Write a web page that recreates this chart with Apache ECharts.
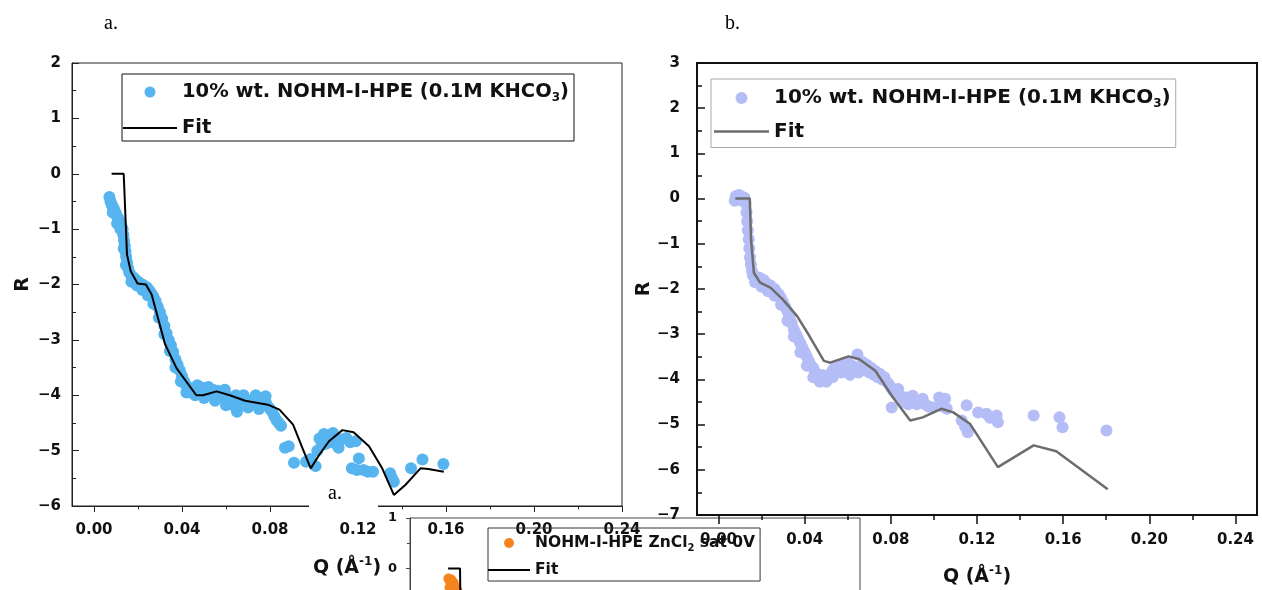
<!DOCTYPE html>
<html>
<head>
<meta charset="utf-8">
<script src="https://cdn.jsdelivr.net/npm/echarts@6/dist/echarts.min.js"></script>
<style>
  html, body { margin: 0; padding: 0; background: #fff; }
  #chart { width: 1262px; height: 590px; }
</style>
</head>
<body>
<div id="chart"></div>
<script>
// 数据：Q (Å^-1), R
const aDots = [
  [0.007,-0.42],[0.0075,-0.5],[0.008,-0.55],[0.0085,-0.6],[0.009,-0.63],[0.0095,-0.68],[0.010,-0.72],
  [0.0105,-0.78],[0.011,-0.8],[0.0115,-0.85],[0.012,-0.88],[0.0125,-0.95],[0.013,-1.0],[0.0133,-1.1],
  [0.0136,-1.2],[0.014,-1.3],[0.0143,-1.4],[0.0146,-1.5],[0.015,-1.6],[0.0155,-1.7],[0.016,-1.78],
  [0.017,-1.84],[0.018,-1.88],[0.019,-1.92],[0.020,-1.95],[0.021,-1.98],[0.022,-2.0],[0.023,-2.03],
  [0.024,-2.05],[0.025,-2.1],[0.026,-2.16],[0.027,-2.22],[0.028,-2.3],[0.029,-2.4],[0.030,-2.5],
  [0.031,-2.62],[0.032,-2.75],[0.033,-2.88],[0.034,-3.0],[0.035,-3.1],[0.036,-3.22],[0.037,-3.35],
  [0.038,-3.45],[0.039,-3.55],[0.040,-3.65],[0.041,-3.75],[0.042,-3.82],[0.043,-3.9],[0.044,-3.95],
  [0.045,-3.92],[0.046,-3.88],[0.047,-3.82],[0.048,-3.85],[0.049,-3.9],[0.050,-3.87],[0.051,-3.92],
  [0.052,-3.85],[0.053,-3.95],[0.054,-3.9],[0.055,-3.98],[0.056,-3.92],[0.057,-4.0],[0.058,-3.95],
  [0.059,-4.05],[0.060,-4.0],[0.061,-4.1],[0.062,-4.05],[0.063,-4.15],[0.064,-4.2],[0.065,-4.25],
  [0.066,-4.1],[0.067,-4.05],[0.068,-4.0],[0.069,-4.08],[0.070,-4.12],[0.071,-4.15],[0.072,-4.1],
  [0.073,-4.15],[0.074,-4.12],[0.075,-4.18],[0.076,-4.08],[0.077,-4.05],[0.078,-4.12],[0.079,-4.2],
  [0.080,-4.25],[0.081,-4.3],[0.082,-4.38],[0.083,-4.45],[0.084,-4.5],[0.085,-4.55],
  [0.0085,-0.7],[0.0105,-0.9],[0.012,-1.0],[0.0135,-1.35],[0.0145,-1.65],[0.017,-1.95],[0.0195,-2.02],
  [0.022,-2.1],[0.0245,-2.2],[0.027,-2.35],[0.0295,-2.6],[0.032,-2.9],[0.0345,-3.2],[0.037,-3.5],
  [0.0395,-3.75],[0.042,-3.95],[0.046,-4.0],[0.050,-4.05],[0.055,-4.1],[0.060,-4.18],[0.065,-4.3],
  [0.070,-4.22],[0.075,-4.25],[0.0595,-3.9],[0.0645,-4.0],[0.0735,-4.0],[0.078,-4.02],
  [0.0868,-4.95],[0.0885,-4.92],[0.0909,-5.22],[0.0964,-5.2],[0.0985,-5.15],[0.1007,-5.28],
  [0.1015,-5.0],[0.1025,-4.78],[0.1035,-4.9],[0.1045,-4.7],[0.1051,-4.88],[0.106,-4.75],[0.107,-4.85],
  [0.1086,-4.68],[0.1095,-4.8],[0.1105,-4.9],[0.1112,-4.95],[0.1125,-4.8],[0.1147,-4.77],[0.1165,-4.85],
  [0.119,-4.83],[0.1204,-5.14],[0.1172,-5.32],[0.1195,-5.35],[0.1225,-5.35],[0.1245,-5.38],[0.1268,-5.38],
  [0.1346,-5.41],[0.1355,-5.5],[0.1363,-5.56],[0.1441,-5.32],[0.1493,-5.16],[0.1588,-5.24]
];
const aFit = [
  [0.008,0],[0.0135,0],[0.015,-1.46],[0.0167,-1.76],[0.0198,-1.98],[0.0236,-2.0],[0.0262,-2.18],
  [0.0323,-3.08],[0.0375,-3.51],[0.0465,-4.0],[0.0496,-4.0],[0.0557,-3.93],[0.0617,-4.0],[0.0687,-4.1],
  [0.079,-4.17],[0.0843,-4.26],[0.0905,-4.53],[0.0947,-4.95],[0.0985,-5.32],[0.1025,-5.07],[0.1068,-4.83],
  [0.1129,-4.63],[0.118,-4.67],[0.125,-4.92],[0.131,-5.32],[0.1363,-5.8],[0.1415,-5.62],[0.1484,-5.32],
  [0.152,-5.33],[0.159,-5.38]
];
const bDots = [
  [0.0075,-0.05],[0.008,0.05],[0.009,-0.02],[0.0095,0.08],[0.0105,0.05],[0.011,-0.05],[0.012,0.02],
  [0.0125,-0.1],[0.013,-0.3],[0.0133,-0.5],[0.0136,-0.7],[0.014,-0.9],[0.0143,-1.1],[0.0146,-1.3],
  [0.015,-1.45],[0.0155,-1.6],[0.016,-1.7],[0.017,-1.72],[0.018,-1.78],[0.019,-1.75],[0.020,-1.82],
  [0.021,-1.8],[0.022,-1.88],[0.023,-1.9],[0.024,-1.92],[0.025,-1.98],[0.026,-2.0],[0.027,-2.08],
  [0.028,-2.12],[0.029,-2.2],[0.030,-2.3],[0.031,-2.4],[0.032,-2.5],[0.033,-2.62],[0.034,-2.75],
  [0.035,-2.9],[0.036,-3.0],[0.037,-3.1],[0.038,-3.2],[0.039,-3.3],[0.040,-3.4],[0.041,-3.5],
  [0.042,-3.6],[0.043,-3.7],[0.044,-3.75],[0.045,-3.85],[0.046,-3.9],[0.047,-3.95],[0.048,-3.9],
  [0.049,-3.95],[0.050,-3.92],[0.051,-3.95],[0.052,-3.88],[0.053,-3.8],[0.054,-3.75],[0.055,-3.7],
  [0.056,-3.68],[0.057,-3.72],[0.058,-3.65],[0.059,-3.75],[0.060,-3.62],[0.061,-3.78],[0.062,-3.7],
  [0.0645,-3.45],[0.066,-3.75],[0.067,-3.62],[0.068,-3.8],[0.069,-3.68],[0.070,-3.85],[0.071,-3.75],
  [0.072,-3.9],[0.073,-3.82],[0.074,-3.95],[0.075,-3.88],[0.076,-4.0],[0.077,-3.95],[0.078,-4.05],
  [0.079,-4.1],[0.080,-4.18],[0.0804,-4.62],[0.081,-4.25],[0.082,-4.3],[0.0834,-4.21],[0.0844,-4.36],
  [0.086,-4.5],[0.087,-4.4],[0.088,-4.55],[0.0901,-4.36],[0.091,-4.48],[0.092,-4.55],[0.0948,-4.43],
  [0.096,-4.55],[0.0975,-4.6],[0.0995,-4.62],[0.1024,-4.4],[0.1035,-4.48],[0.1052,-4.43],[0.104,-4.6],
  [0.106,-4.65],[0.1129,-4.91],[0.1145,-5.05],[0.1157,-5.17],[0.1152,-4.57],[0.1205,-4.73],
  [0.1244,-4.76],[0.126,-4.85],[0.1291,-4.8],[0.1297,-4.95],[0.1463,-4.8],[0.1583,-4.84],
  [0.1597,-5.06],[0.1801,-5.13],
  [0.017,-1.85],[0.020,-1.95],[0.023,-2.05],[0.026,-2.15],[0.029,-2.35],[0.032,-2.7],[0.035,-3.05],
  [0.038,-3.4],[0.041,-3.7],[0.044,-3.95],[0.047,-4.05],[0.050,-4.05],[0.053,-3.95],[0.057,-3.85],
  [0.061,-3.9],[0.065,-3.85]
];
const bFit = [
  [0.0078,0],[0.0145,0],[0.0151,-0.91],[0.0164,-1.64],[0.0193,-1.86],[0.0241,-1.97],[0.0298,-2.23],
  [0.0365,-2.6],[0.0422,-3.04],[0.0489,-3.59],[0.0518,-3.63],[0.0604,-3.49],[0.0652,-3.55],
  [0.0728,-3.81],[0.0804,-4.36],[0.089,-4.91],[0.0948,-4.84],[0.1034,-4.65],[0.109,-4.73],
  [0.1167,-4.98],[0.1297,-5.94],[0.1463,-5.46],[0.1568,-5.59],[0.1807,-6.43]
];
const cDots = [
  [0.0122,-0.2],[0.013,-0.25],[0.0138,-0.22],[0.0145,-0.3],[0.0152,-0.28],[0.016,-0.35],
  [0.0168,-0.4],[0.0175,-0.45],[0.0128,-0.38],[0.0142,-0.42]
];
const cFit = [[0.012,0],[0.0189,0],[0.0192,-0.8],[0.0198,-1.6],[0.024,-2.0]];

const xMajor = [0, 0.04, 0.08, 0.12, 0.16, 0.20, 0.24];
const xMinor = [0.02, 0.06, 0.10, 0.14, 0.18, 0.22];

const SANS = 'DejaVu Sans';
const minusFmt = v => (v < 0 ? '\u2212' + (-v) : String(v));
// 拟合线的图例图标：细长矩形
const LINE_ICON = 'path://M0,0 L54,0 L54,2 L0,2 Z';

const legendRich = size => ({
  t: { fontFamily: SANS, fontWeight: 'bold', fontSize: size, lineHeight: 24, color: '#111' },
  s: { fontFamily: SANS, fontWeight: 'bold', fontSize: Math.round(size * 0.62), lineHeight: 12, verticalAlign: 'bottom', color: '#111' }
});
const qName = '{q|Q (Å}{p|-1}{q|)}';
const qRich = {
  q: { fontFamily: SANS, fontWeight: 'bold', fontSize: 19, lineHeight: 24, color: '#111' },
  p: { fontFamily: SANS, fontWeight: 'bold', fontSize: 12, lineHeight: 12, verticalAlign: 'top', color: '#111' }
};
const labels = {
  aDots: '{t|10% wt. NOHM-I-HPE (0.1M KHCO}{s|3}{t|)}',
  aFit: '{t|Fit}',
  bDots: '{t|10% wt. NOHM-I-HPE (0.1M KHCO}{s|3}{t|)}',
  bFit: '{t|Fit}',
  cDots: '{t|NOHM-I-HPE ZnCl}{s|2}{t| sat 0V}',
  cFit: '{t|Fit}'
};

function xAxes(grid, color, tickLen) {
  const w = grid === 0 ? 1 : 2;
  return [
    {
      type: 'value', gridIndex: grid, min: -0.01, max: grid === 0 ? 0.24 : 0.25, position: 'bottom',
      splitLine: { show: false },
      axisLine: { show: true, onZero: false, lineStyle: { color: color, width: w } },
      axisTick: { show: true, customValues: xMajor, length: tickLen, lineStyle: { color: color, width: w === 1 ? 1 : 1.5 } },
      axisLabel: {
        customValues: xMajor, formatter: v => v.toFixed(2), margin: grid === 0 ? 17 : 18,
        fontFamily: SANS, fontWeight: 'bold', fontSize: 15, color: '#111'
      },
      name: qName, nameLocation: 'middle', nameGap: 50,
      nameTextStyle: { rich: qRich }
    },
    {
      type: 'value', gridIndex: grid, min: -0.01, max: grid === 0 ? 0.24 : 0.25, position: 'bottom',
      splitLine: { show: false },
      axisLine: { show: false, onZero: false },
      axisTick: { show: true, customValues: xMinor, length: tickLen * 0.55, lineStyle: { color: color, width: w === 1 ? 1 : 1.5 } },
      axisLabel: { show: false }
    }
  ];
}

const chart = echarts.init(document.getElementById('chart'), null, { renderer: 'canvas' });

const option = {
  animation: false,
  backgroundColor: '#fff',
  grid: [
    { left: 72, top: 63, width: 550, height: 443, show: true, borderColor: '#222', borderWidth: 1, outerBoundsMode: 'none' },
    { left: 697, top: 63, width: 560, height: 452, show: true, borderColor: '#111', borderWidth: 2, outerBoundsMode: 'none' },
    { left: 410, top: 518, width: 450, height: 505, show: true, borderColor: '#444', borderWidth: 1, outerBoundsMode: 'none' }
  ],
  xAxis: [
    ...xAxes(0, '#222', 6),
    ...xAxes(1, '#111', 9),
    { type: 'value', gridIndex: 2, min: -0.01, max: 0.25, show: false }
  ],
  yAxis: [
    {
      type: 'value', gridIndex: 0, min: -6, max: 2, interval: 1,
      splitLine: { show: false },
      axisLine: { show: true, onZero: false, lineStyle: { color: '#222' } },
      axisTick: { inside: true, length: 7, lineStyle: { color: '#222' } },
      minorTick: { show: true, splitNumber: 2, length: 4, lineStyle: { color: '#222' } },
      axisLabel: { formatter: minusFmt, margin: 11, fontFamily: SANS, fontWeight: 'bold', fontSize: 15, color: '#111' },
      name: 'R', nameLocation: 'middle', nameGap: 39,
      nameTextStyle: { fontFamily: SANS, fontWeight: 'bold', fontSize: 19, color: '#111' }
    },
    {
      type: 'value', gridIndex: 1, min: -7, max: 3, interval: 1,
      splitLine: { show: false },
      axisLine: { show: true, onZero: false, lineStyle: { color: '#111', width: 2 } },
      axisTick: { inside: true, length: 8, lineStyle: { color: '#111', width: 1.5 } },
      minorTick: { show: true, splitNumber: 2, length: 5, lineStyle: { color: '#111', width: 1.5 } },
      axisLabel: { formatter: minusFmt, margin: 17, fontFamily: SANS, fontWeight: 'bold', fontSize: 15, color: '#111' },
      name: 'R', nameLocation: 'middle', nameGap: 38,
      nameTextStyle: { fontFamily: SANS, fontWeight: 'bold', fontSize: 19, color: '#111' }
    },
    {
      type: 'value', gridIndex: 2, min: -9, max: 1, interval: 1,
      splitLine: { show: false },
      axisLine: { show: true, onZero: false, lineStyle: { color: '#444' } },
      axisTick: { length: 4, lineStyle: { color: '#444' } },
      minorTick: { show: true, splitNumber: 2, length: 3, lineStyle: { color: '#444' } },
      axisLabel: { formatter: minusFmt, margin: 13, fontFamily: SANS, fontWeight: 'bold', fontSize: 13, color: '#111' }
    }
  ],
  legend: [
    {
      orient: 'vertical', left: 122, top: 74, padding: [8, 5, 3, 1], itemGap: 14,
      itemWidth: 54, itemHeight: 11, borderColor: '#111', borderWidth: 1,
      data: ['aDots', { name: 'aFit', icon: LINE_ICON }], formatter: n => labels[n], selectedMode: false,
      textStyle: { rich: legendRich(19.5) }
    },
    {
      orient: 'vertical', left: 711, top: 79, padding: [9, 5, 6, 3], itemGap: 11.5,
      itemWidth: 55, itemHeight: 12, borderColor: '#a8a8a8', borderWidth: 1,
      data: ['bDots', { name: 'bFit', icon: 'path://M0,0 L55,0 L55,2.5 L0,2.5 Z' }], formatter: n => labels[n], selectedMode: false,
      textStyle: { rich: legendRich(20) }
    },
    {
      orient: 'vertical', left: 488, top: 528, padding: [7, 5, 3, 0], itemGap: 9,
      itemWidth: 42, itemHeight: 10, borderColor: '#333', borderWidth: 1,
      data: ['cDots', { name: 'cFit', icon: 'path://M0,0 L42,0 L42,2 L0,2 Z' }], formatter: n => labels[n], selectedMode: false,
      textStyle: { rich: { t: { fontFamily: SANS, fontWeight: 'bold', fontSize: 15.5, lineHeight: 20, color: '#111' },
                           s: { fontFamily: SANS, fontWeight: 'bold', fontSize: 10, lineHeight: 10, verticalAlign: 'bottom', color: '#111' } } }
    }
  ],
  series: [
    { name: 'aDots', type: 'scatter', xAxisIndex: 0, yAxisIndex: 0, data: aDots, symbolSize: 12,
      itemStyle: { color: '#56b4ef', opacity: 1 }, z: 2 },
    { name: 'aFit', type: 'line', xAxisIndex: 0, yAxisIndex: 0, data: aFit, symbol: 'none',
      lineStyle: { color: '#000', width: 2 }, itemStyle: { color: '#000' }, z: 3 },
    { name: 'bDots', type: 'scatter', xAxisIndex: 2, yAxisIndex: 1, data: bDots, symbolSize: 12,
      itemStyle: { color: '#b5bdf6', opacity: 1 }, z: 2 },
    { name: 'bFit', type: 'line', xAxisIndex: 2, yAxisIndex: 1, data: bFit, symbol: 'none',
      lineStyle: { color: '#6d6d6d', width: 2.5 }, itemStyle: { color: '#6d6d6d' }, z: 3 },
    { name: 'cDots', type: 'scatter', xAxisIndex: 4, yAxisIndex: 2, data: cDots, symbolSize: 10,
      itemStyle: { color: '#f5841f', opacity: 1 }, z: 2 },
    { name: 'cFit', type: 'line', xAxisIndex: 4, yAxisIndex: 2, data: cFit, symbol: 'none',
      lineStyle: { color: '#000', width: 2 }, itemStyle: { color: '#000' }, z: 3 }
  ],
  graphic: [
    { type: 'text', left: 104, top: 14, z: 100,
      style: { text: 'a.', font: '20px "Liberation Serif"', fill: '#000' } },
    { type: 'text', left: 725, top: 14, z: 100,
      style: { text: 'b.', font: '20px "Liberation Serif"', fill: '#000' } },
    { type: 'rect', left: 309, top: 484, z: 100,
      shape: { width: 69, height: 38 }, style: { fill: '#fff' } },
    { type: 'text', left: 328, top: 484, z: 101,
      style: { text: 'a.', font: '20px "Liberation Serif"', fill: '#000' } }
  ]
};

chart.setOption(option);
</script>
</body>
</html>
